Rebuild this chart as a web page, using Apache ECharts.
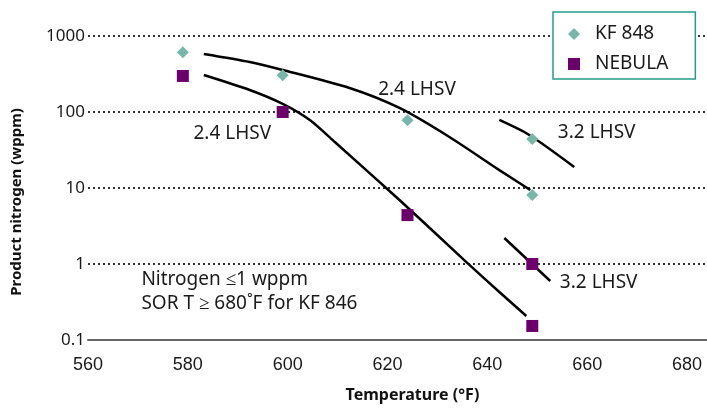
<!DOCTYPE html>
<html>
<head>
<meta charset="utf-8">
<style>
  html, body { margin: 0; padding: 0; background: #fff; }
  #chart { width: 707px; height: 411px; }
</style>
<script src="https://cdn.jsdelivr.net/npm/echarts@6/dist/echarts.min.js"></script>
</head>
<body>
<div id="chart"></div>
<script>
// measured points
const kf848X = [579, 599, 624, 649, 649];
const kf848Y = [610, 305, 78, 44, 8.1];
const nebulaX = [579, 599, 624, 649, 649];
const nebulaY = [298, 100, 4.4, 1.0, 0.153];

// trend curves (hand drawn in the original)
const kf24X = [583.2, 592.4, 599, 612.4, 622.4, 632.4, 642.4, 648.6];
const kf24Y = [580, 455, 357, 207, 113, 46.9, 17.2, 9.4];
const neb24X = [583.2, 592.4, 599, 604.5, 609.5, 622.4, 635.8, 642.4, 647.8];
const neb24Y = [307, 195, 128, 78, 40, 6.95, 1.06, 0.428, 0.207];
const kf32X = [642.4, 648.4, 657.4];
const kf32Y = [78.5, 49.8, 18.9];
const neb32X = [643.4, 652.6];
const neb32Y = [2.2, 0.597];

// annotations
const noteX = [626, 589, 662, 662.4];
const noteY = [195, 51, 53, 0.56];
const noteText = ["2.4 LHSV", "2.4 LHSV", "3.2 LHSV", "3.2 LHSV"];
const boxNoteX = [570.8];
const boxNoteY = [0.428];
const boxNoteText = ["Nitrogen \u22641 wppm\nSOR T \u2265 680\u02DAF for KF 846"];

const xTicks = [560, 580, 600, 620, 640, 660, 680];
const yTickLabels = { "-1": "0.1", "0": "1", "1": "10", "2": "100", "3": "1000" };

const zip = (xs, ys) => xs.map((x, i) => [x, ys[i]]);
const zip3 = (xs, ys, ts) => xs.map((x, i) => [x, ys[i], ts[i]]);

const chart = echarts.init(document.getElementById("chart"));

function curve(xs, ys) {
  return {
    type: "line",
    data: zip(xs, ys),
    smooth: 0.25,
    showSymbol: false,
    silent: true,
    lineStyle: { color: "#000", width: 2.5 },
    z: 1,
  };
}

chart.setOption({
  animation: false,
  backgroundColor: "#fff",
  textStyle: { fontFamily: "Noto Sans" },
  grid: { left: 88, right: 0, top: 36, bottom: 71, containLabel: false },
  graphic: [
    {
      type: "text",
      x: 17,
      y: 202,
      rotation: Math.PI / 2,
      style: {
        text: "Product nitrogen (wppm)",
        font: "bold 15px 'Noto Sans'",
        fill: "#111",
        align: "center",
        verticalAlign: "middle",
      },
    },
  ],
  legend: {
    data: ["KF 848", "NEBULA"],
    orient: "vertical",
    left: 553,
    top: 12,
    padding: [12, 27, 5, 15],
    itemWidth: 12,
    itemHeight: 12,
    itemGap: 10,
    backgroundColor: "#fff",
    borderColor: "#2a9a8a",
    borderWidth: 1.5,
    selectedMode: false,
    textStyle: { fontSize: 19, color: "#1a1a1a", lineHeight: 20, padding: [0, 0, 0, 10] },
  },
  xAxis: {
    type: "value",
    min: 560,
    max: 684,
    interval: 20,
    name: "Temperature (\u00B0F)",
    nameLocation: "middle",
    nameGap: 47,
    nameTextStyle: { fontSize: 16, fontWeight: "bold", color: "#111", padding: [0, 0, 0, 30] },
    axisLine: { show: true, lineStyle: { color: "#666", width: 2 } },
    axisTick: { show: false },
    splitLine: { show: false },
    axisLabel: {
      fontFamily: "Liberation Sans",
      fontSize: 18,
      color: "#1a1a1a",
      margin: 16,
      showMaxLabel: false,
      formatter: (v) => (xTicks.includes(v) ? String(v) : ""),
    },
  },
  yAxis: {
    type: "log",
    logBase: 10,
    min: 0.1,
    max: 1000,
    axisLine: { show: false },
    axisTick: { show: false },
    axisLabel: {
      fontSize: 17,
      color: "#1a1a1a",
      margin: 3,
      formatter: (v) => yTickLabels[String(Math.round(Math.log10(v)))] || "",
    },
    splitLine: { show: true, lineStyle: { color: "#333", width: 2, type: [2, 3] } },
  },
  series: [
    curve(kf24X, kf24Y),
    curve(neb24X, neb24Y),
    curve(kf32X, kf32Y),
    curve(neb32X, neb32Y),
    {
      name: "KF 848",
      type: "scatter",
      symbol: "diamond",
      symbolSize: 12,
      itemStyle: { color: "#78b6aa", opacity: 1 },
      data: zip(kf848X, kf848Y),
      z: 3,
    },
    {
      name: "NEBULA",
      type: "scatter",
      symbol: "rect",
      symbolSize: 12,
      itemStyle: { color: "#6c006a", opacity: 1 },
      data: zip(nebulaX, nebulaY),
      z: 3,
    },
    {
      type: "scatter",
      symbolSize: 1,
      silent: true,
      itemStyle: { color: "rgba(0,0,0,0)", opacity: 1 },
      data: zip3(noteX, noteY, noteText),
      label: {
        show: true,
        position: [0, 0],
        align: "center",
        verticalAlign: "middle",
        fontSize: 19,
        color: "#1a1a1a",
        opacity: 1,
        formatter: (p) => p.data[2],
      },
    },
    {
      type: "scatter",
      symbolSize: 1,
      silent: true,
      itemStyle: { color: "rgba(0,0,0,0)", opacity: 1 },
      data: zip3(boxNoteX, boxNoteY, boxNoteText),
      label: {
        show: true,
        position: [0, 0],
        align: "left",
        verticalAlign: "middle",
        fontSize: 19,
        lineHeight: 24,
        color: "#1a1a1a",
        opacity: 1,
        formatter: (p) => p.data[2],
      },
    },
  ],
});
</script>
</body>
</html>
